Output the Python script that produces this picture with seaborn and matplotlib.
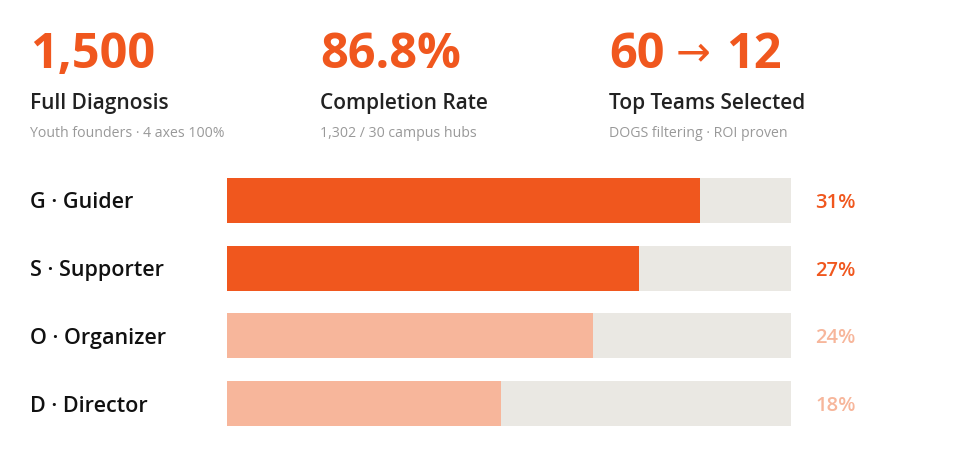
import numpy as np
import pandas as pd
import seaborn as sns
from matplotlib import pyplot as plt

# kpi header
kpi_values = ['1,500', '86.8%', '60', '12']
kpi_titles = ['Full Diagnosis', 'Completion Rate', 'Top Teams Selected']
kpi_notes = ['Youth founders \u00b7 4 axes 100%', '1,302 / 30 campus hubs', 'DOGS filtering \u00b7 ROI proven']

# type shares
types = ['G \u00b7 Guider', 'S \u00b7 Supporter', 'O \u00b7 Organizer', 'D \u00b7 Director']
shares = [31, 27, 24, 18]
scale_max = 37

ORANGE = '#F0571E'
LIGHT = '#F7B69B'
TRACK = '#EAE8E3'
colors = [ORANGE, ORANGE, LIGHT, LIGHT]

sns.set_theme(style='white')
plt.rcParams['font.family'] = ['Open Sans', 'DejaVu Sans']

fig = plt.figure(figsize=(9.6, 4.7), dpi=100)

# header texts
xs = [30, 320, 609]
big = dict(fontsize=35, fontweight='bold', color=ORANGE, va='baseline', ha='left')
fig.text(30 / 960, 1 - 68 / 470, kpi_values[0], **big)
fig.text(320 / 960, 1 - 68 / 470, kpi_values[1], **big)
fig.text(609 / 960, 1 - 68 / 470, kpi_values[2], **big)
fig.text(676 / 960, 1 - 49 / 470, '\u2192', fontsize=30, color=ORANGE,
         va='center_baseline', ha='left', family=['DejaVu Sans'])
fig.text(726 / 960, 1 - 68 / 470, kpi_values[3], **big)
for x, t, n in zip(xs, kpi_titles, kpi_notes):
    fig.text(x / 960, 1 - 109 / 470, t, fontsize=15, fontweight='semibold',
             color='#222222', va='baseline', ha='left')
    fig.text(x / 960, 1 - 137 / 470, n, fontsize=10.2,
             color='#999999', va='baseline', ha='left')

df = pd.DataFrame({'type': types, 'share': shares, 'track': [scale_max] * len(types)})

ax = fig.add_axes([227 / 960, 44 / 470, 564 / 960, 248 / 470])
w = 0.665
sns.barplot(data=df, x='track', y='type', color=TRACK, width=w, ax=ax,
            orient='h', saturation=1, linewidth=0)
sns.barplot(data=df, x='share', y='type', hue='type', palette=colors, width=w,
            ax=ax, orient='h', saturation=1, legend=False, linewidth=0)

ax.set_xlim(0, scale_max)
ax.set_ylim(len(types) - 1 + w / 2, -w / 2)
ax.set_xlabel('')
ax.set_ylabel('')
ax.set_xticks([])
ax.set_yticks([])
sns.despine(ax=ax, left=True, bottom=True)

for i, (lab, s, c) in enumerate(zip(types, shares, colors)):
    ax.text(-197 / 564 * scale_max, i, lab, fontsize=15.5, fontweight='semibold',
            color='#111111', va='center_baseline', ha='left')
    ax.text(scale_max + 24 / 564 * scale_max, i, f'{s}%', fontsize=14.5,
            fontweight='semibold', color=c, va='center_baseline', ha='left')

fig.savefig('out.png', dpi=100)
